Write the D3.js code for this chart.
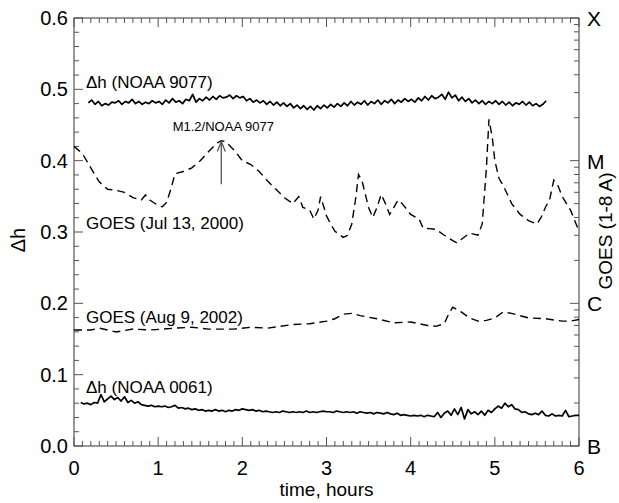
<!DOCTYPE html>
<html><head><meta charset="utf-8">
<script src="https://cdn.jsdelivr.net/npm/d3@7"></script>
<style>body{margin:0;background:#fff}svg{display:block}text{font-family:"Liberation Sans",Arial,sans-serif;fill:#000}</style>
</head><body><svg id="c" width="619" height="503"></svg>
<script>
// ---- data ----
// Δh NOAA 9077 (sampled every 0.04 h starting 0.17 h)
const dh9077Start = 0.17, dh9077Step = 0.04;
const dh9077 = [0.481,0.485,0.479,0.483,0.477,0.480,0.478,0.482,0.481,0.484,0.479,0.483,0.481,0.486,0.480,0.483,0.479,0.482,0.480,0.484,0.481,
0.483,0.479,0.485,0.481,0.487,0.482,0.484,0.480,0.486,0.484,0.493,0.482,0.487,0.484,0.489,0.485,0.490,0.486,0.491,0.488,0.489,0.492,0.487,0.491,0.488,
0.490,0.484,0.487,0.482,0.485,0.481,0.484,0.479,0.483,0.478,0.482,0.477,0.481,0.476,0.480,0.474,0.478,0.473,0.477,0.472,0.476,0.471,0.477,0.473,0.478,
0.474,0.479,0.475,0.480,0.476,0.481,0.477,0.483,0.478,0.482,0.479,0.484,0.478,0.483,0.480,0.485,0.479,0.484,0.481,0.486,0.480,0.485,0.482,0.487,0.483,
0.486,0.482,0.488,0.484,0.490,0.485,0.491,0.487,0.489,0.493,0.486,0.496,0.488,0.492,0.484,0.489,0.483,0.487,0.481,0.485,0.480,0.484,0.479,0.483,0.480,
0.484,0.479,0.483,0.478,0.482,0.477,0.481,0.479,0.483,0.478,0.482,0.477,0.480,0.476,0.479,0.484];
// Δh NOAA 0061 (sampled every 0.04 h starting 0.08 h)
const dh0061Start = 0.08, dh0061Step = 0.04;
const dh0061 = [0.061,0.059,0.060,0.058,0.061,0.060,0.072,0.062,0.066,0.070,0.065,0.068,0.063,0.069,0.061,0.064,0.060,0.062,0.058,
0.057,0.056,0.057,0.055,0.056,0.055,0.056,0.054,0.055,0.057,0.053,0.054,0.052,0.053,0.051,0.052,0.050,0.051,0.049,0.050,0.049,0.051,0.049,0.050,0.048,0.050,0.049,0.051,0.050,0.052,
0.051,0.050,0.051,0.049,0.050,0.048,0.049,0.048,0.047,0.048,0.047,0.049,0.048,0.047,0.048,0.047,0.048,0.047,0.049,0.047,0.048,0.047,0.048,0.049,0.048,
0.048,0.047,0.049,0.048,0.047,0.048,0.047,0.048,0.046,0.048,0.047,0.046,0.047,0.045,0.047,0.046,0.045,0.047,0.045,0.044,0.046,0.043,0.044,0.043,0.042,
0.043,0.042,0.043,0.041,0.043,0.042,0.041,0.047,0.040,0.046,0.049,0.043,0.052,0.044,0.054,0.038,0.051,0.045,0.048,0.044,0.049,0.043,0.050,0.047,0.052,
0.056,0.053,0.060,0.055,0.058,0.052,0.051,0.047,0.048,0.045,0.044,0.046,0.044,0.049,0.043,0.042,0.045,0.042,0.043,0.042,0.050,0.041,0.042,0.043,0.043];
// GOES 1-8 A flux, µW/m², Jul 13 2000
const goesJulTime = [0,0.1,0.2,0.3,0.4,0.5,0.6,0.7,0.8,0.85,0.9,1.0,1.05,1.1,1.15,1.2,1.3,1.4,1.5,1.6,1.7,1.75,1.8,1.9,2.0,2.1,2.2,2.3,2.4,2.5,2.6,2.67,2.72,2.8,2.85,2.9,2.93,2.97,3.0,3.05,3.1,3.2,3.25,3.3,3.35,3.38,3.42,3.5,3.55,3.6,3.65,3.7,3.75,3.8,3.85,3.9,4.0,4.1,4.15,4.2,4.3,4.4,4.5,4.55,4.6,4.7,4.8,4.85,4.9,4.93,4.97,5.0,5.05,5.1,5.2,5.3,5.4,5.5,5.55,5.6,5.65,5.7,5.75,5.8,5.9,6.0];
const goesJul = [12.6,11.2,8.9,7.1,6.3,6.2,6.0,5.5,5.3,5.75,5.3,4.85,4.75,5.1,6.3,8.1,8.4,8.9,10.0,11.6,13.3,13.8,13.6,11.9,10.0,9.4,8.4,7.2,6.3,5.5,5.0,5.6,4.7,4.5,3.9,4.5,5.6,4.7,4.1,3.6,3.2,2.9,3.0,3.6,5.6,8.0,7.3,4.7,4.0,4.7,5.8,5.0,4.2,4.7,5.3,5.0,4.2,3.9,3.35,3.35,3.3,3.0,2.75,2.65,2.8,3.1,3.0,3.6,8.9,19.5,14.5,10.0,7.5,6.7,5.0,4.2,3.8,3.6,4.0,4.7,5.3,7.3,6.7,5.6,4.5,3.2];
// GOES 1-8 A flux, µW/m², Aug 9 2002
const goesAugTime = [0,0.2,0.3,0.5,0.7,0.9,1.2,1.4,1.6,1.9,2.1,2.3,2.6,2.8,3.0,3.1,3.2,3.3,3.4,3.6,3.8,4.0,4.1,4.2,4.3,4.4,4.45,4.5,4.6,4.7,4.8,4.9,5.0,5.1,5.2,5.4,5.6,5.8,5.9,6.0];
const goesAug = [0.65,0.65,0.67,0.63,0.66,0.65,0.67,0.68,0.66,0.66,0.68,0.67,0.71,0.72,0.75,0.78,0.84,0.85,0.82,0.78,0.73,0.74,0.72,0.70,0.69,0.72,0.84,0.94,0.87,0.79,0.75,0.76,0.79,0.87,0.85,0.79,0.78,0.75,0.75,0.77];
const yTicks = [0,0.1,0.2,0.3,0.4,0.5,0.6];
const xTicks = [0,1,2,3,4,5,6];
const goesClassTicks = [0.1,1,10,100];
const goesClassLabels = ["B","C","M","X"];
const flare = {time:1.75, label:"M1.2/NOAA 9077"};

// ---- layout ----
const L=74,R=579,T=18,B=446;
const svg=d3.select("#c");
const x=d3.scaleLinear().domain([0,6]).range([L,R]);
const y=d3.scaleLinear().domain([0,0.6]).range([B,T]);
const yG=d3.scaleLog().domain([0.1,100]).range([B,T]);

// frame
svg.append("rect").attr("x",L).attr("y",T).attr("width",R-L).attr("height",B-T)
  .attr("fill","none").attr("stroke","#555").attr("stroke-width",1.2);

const ax=svg.append("g").attr("stroke","#555").attr("stroke-width",1);
// x ticks (bottom and top), minor every 0.1
d3.range(0,61).forEach(i=>{
  const v=i/10, len=(i%10===0)?9:5, px=x(v);
  ax.append("line").attr("x1",px).attr("x2",px).attr("y1",B).attr("y2",B-len);
  ax.append("line").attr("x1",px).attr("x2",px).attr("y1",T).attr("y2",T+len);
});
// left y ticks, minor every 0.02
d3.range(0,31).forEach(i=>{
  const v=i*0.02, len=(i%5===0)?9:5, py=y(v);
  ax.append("line").attr("x1",L).attr("x2",L+len).attr("y1",py).attr("y2",py);
});
// right log ticks
goesClassTicks.forEach((d,k)=>{
  const mult = k<goesClassTicks.length-1 ? d3.range(1,10) : [1];
  mult.forEach(m=>{
    const py=yG(d*m), len=(m===1)?9:5;
    ax.append("line").attr("x1",R).attr("x2",R-len).attr("y1",py).attr("y2",py);
  });
});

// tick labels
xTicks.forEach(v=>svg.append("text").attr("x",x(v)).attr("y",B+29).attr("text-anchor","middle")
  .attr("font-size",20).text(v));
yTicks.forEach(v=>svg.append("text").attr("x",L-6).attr("y",y(v)+7).attr("text-anchor","end")
  .attr("font-size",20).text(d3.format(".1f")(v)));
goesClassTicks.forEach((v,i)=>svg.append("text").attr("x",R+8).attr("y",yG(v)+8).attr("text-anchor","start")
  .attr("font-size",21).text(goesClassLabels[i]));

// axis titles
svg.append("text").attr("x",(L+R)/2).attr("y",B+50).attr("text-anchor","middle").attr("font-size",19).text("time, hours");
svg.append("text").attr("transform",`translate(25,${(T+B)/2+8}) rotate(-90)`).attr("text-anchor","middle").attr("font-size",20).text("Δh");
svg.append("text").attr("transform",`translate(612,231) rotate(-90)`).attr("text-anchor","middle").attr("font-size",19).text("GOES (1-8 A)");

// series
const line=d3.line().x(d=>x(d[0])).y(d=>d[2](d[1]));
const toPts=(ts,vs,sc)=>vs.map((v,i)=>[ts[i],v,sc]);
const grid=(s,st,n)=>d3.range(n).map(i=>s+i*st);
svg.append("path").attr("d",line(toPts(grid(dh9077Start,dh9077Step,dh9077.length),dh9077,y)))
  .attr("fill","none").attr("stroke","#000").attr("stroke-width",1.7).attr("stroke-linejoin","round");
svg.append("path").attr("d",line(toPts(grid(dh0061Start,dh0061Step,dh0061.length),dh0061,y)))
  .attr("fill","none").attr("stroke","#000").attr("stroke-width",1.7).attr("stroke-linejoin","round");
svg.append("path").attr("d",line(toPts(goesJulTime,goesJul,yG)))
  .attr("fill","none").attr("stroke","#000").attr("stroke-width",1.4).attr("stroke-dasharray","8,5");
svg.append("path").attr("d",line(toPts(goesAugTime,goesAug,yG)))
  .attr("fill","none").attr("stroke","#000").attr("stroke-width",1.4).attr("stroke-dasharray","8,5");

// labels
const lab=(t,px,py)=>svg.append("text").attr("x",px).attr("y",py).attr("font-size",17).text(t);
lab("Δh (NOAA 9077)",86,88);
lab("GOES (Jul 13, 2000)",86,229);
lab("GOES (Aug 9, 2002)",86,323);
lab("Δh (NOAA 0061)",86,393);

// flare arrow
const fx=x(flare.time);
svg.append("line").attr("x1",fx).attr("x2",fx).attr("y1",y(0.367)).attr("y2",y(0.427)).attr("stroke","#555").attr("stroke-width",1.3);
svg.append("path").attr("d",`M${fx-4},${y(0.427)+10}L${fx},${y(0.427)}L${fx+4},${y(0.427)+10}`).attr("fill","none").attr("stroke","#555").attr("stroke-width",1.3);
svg.append("text").attr("x",fx+2).attr("y",y(0.427)-10).attr("text-anchor","middle").attr("font-size",13).text(flare.label);
</script></body></html>
